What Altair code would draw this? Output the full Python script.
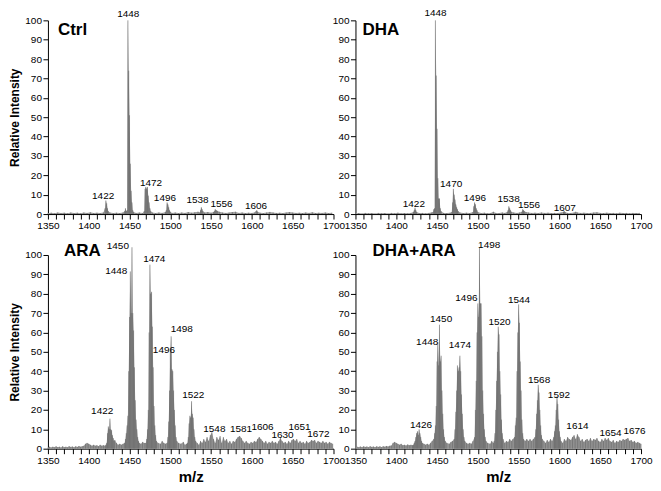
import altair as alt
import pandas as pd

# ---------------- Ctrl ----------------
ctrl_mz = [1350, 1354, 1358, 1362, 1366, 1370, 1374, 1378, 1382, 1386, 1390, 1394, 1398, 1402, 1406, 1410, 1414, 1418,
           1420, 1421, 1422, 1423, 1424, 1426, 1430, 1434, 1438, 1442, 1444, 1445, 1446, 1447, 1448, 1449, 1450, 1451,
           1452, 1453, 1454, 1455, 1458, 1462, 1466, 1468, 1469, 1470, 1471, 1472, 1473, 1474, 1475, 1476, 1478, 1482,
           1486, 1490, 1494, 1495, 1496, 1497, 1498, 1499, 1500, 1502, 1506, 1510, 1514, 1518, 1522, 1526, 1530, 1534,
           1536, 1537, 1538, 1539, 1540, 1542, 1546, 1550, 1553, 1554, 1555, 1556, 1557, 1558, 1560, 1564, 1568, 1572,
           1576, 1580, 1584, 1588, 1592, 1596, 1600, 1603, 1605, 1606, 1607, 1610, 1614, 1618, 1622, 1626, 1630, 1634,
           1638, 1642, 1646, 1650, 1654, 1658, 1662, 1666, 1670, 1674, 1678, 1682, 1686, 1690, 1694, 1698]
ctrl_int = [0.4, 0.7, 0.4, 0.8, 0.5, 0.7, 0.4, 0.8, 0.5, 0.7, 0.4, 0.8, 0.6, 0.9, 0.5, 0.7, 0.5, 0.8,
            3, 7, 5.5, 3, 1.5, 0.8, 0.5, 0.7, 0.5, 0.8, 1.5, 3, 1.5, 2, 100, 74, 51, 26,
            12, 6, 2, 1, 0.6, 0.8, 0.5, 1.5, 13, 14, 13, 14, 9.5, 6, 3, 1.5, 0.8, 0.5,
            0.8, 0.6, 1, 2, 6, 5, 3.5, 2, 1.2, 0.6, 0.8, 0.5, 0.8, 0.6, 1, 0.7, 0.9, 1.2,
            0.8, 2, 3.5, 2.5, 1.5, 0.8, 1, 0.7, 1, 1.5, 2.5, 2, 1.8, 1.5, 1.2, 0.8, 0.6, 0.8,
            1, 1.2, 0.6, 0.8, 0.5, 0.7, 0.6, 0.8, 1.5, 2, 1.2, 0.7, 0.5, 0.8, 1.1, 0.8, 0.6, 0.7,
            0.5, 0.8, 1, 0.8, 0.6, 0.7, 0.5, 0.8, 0.6, 0.9, 0.5, 0.7, 0.6, 0.8, 0.5, 0.7]
ctrl_lab = ["1422", "1448", "1472", "1496", "1538", "1556", "1606"]
ctrl_lab_mz = [1417.7, 1448.4, 1476.3, 1493.4, 1533.3, 1562.7, 1605]
ctrl_lab_int = [7.9, 101.6, 14.5, 6.6, 5.9, 3.8, 2.6]

# ---------------- DHA ----------------
dha_mz = [1350, 1354, 1358, 1362, 1366, 1370, 1374, 1378, 1382, 1386, 1390, 1394, 1398, 1402, 1406, 1410, 1414, 1418,
          1421, 1422, 1423, 1424, 1425, 1428, 1432, 1436, 1440, 1443, 1445, 1446, 1447, 1448, 1449, 1450, 1451, 1452,
          1453, 1454, 1455, 1458, 1462, 1466, 1468, 1469, 1470, 1471, 1472, 1473, 1474, 1475, 1476, 1478, 1482, 1486,
          1490, 1494, 1495, 1496, 1497, 1498, 1499, 1500, 1504, 1508, 1512, 1516, 1519, 1522, 1526, 1530, 1533, 1536,
          1537, 1538, 1539, 1540, 1541, 1544, 1548, 1551, 1554, 1555, 1556, 1557, 1559, 1562, 1566, 1570, 1574, 1578,
          1582, 1586, 1590, 1594, 1598, 1602, 1605, 1606, 1607, 1610, 1614, 1618, 1620, 1622, 1626, 1630, 1634, 1638,
          1642, 1646, 1650, 1654, 1658, 1662, 1666, 1670, 1674, 1678, 1682, 1686, 1690, 1694, 1698]
dha_int = [0.3, 0.5, 0.3, 0.6, 0.4, 0.5, 0.3, 0.6, 0.4, 0.5, 0.3, 0.6, 0.4, 0.7, 0.4, 0.5, 0.4, 0.6,
           1, 2, 3.3, 2, 1, 0.5, 0.6, 0.4, 0.6, 0.8, 1, 2.5, 3, 100, 71.5, 44, 18.5, 8,
           8, 3, 1.5, 0.6, 0.5, 0.7, 1, 6, 13, 10, 7.5, 5, 3.5, 2.5, 1.5, 0.8, 0.5, 0.7,
           0.5, 1, 4, 6, 5, 3, 2, 1, 0.5, 0.7, 0.4, 0.6, 1.2, 0.6, 0.5, 0.8, 0.6, 1,
           2, 4, 3, 2, 1.2, 0.8, 0.6, 0.8, 1.2, 2.5, 2, 1.5, 1, 0.8, 0.6, 0.7, 0.5, 0.8,
           0.6, 0.7, 0.5, 0.6, 0.5, 0.8, 1.2, 1.5, 1, 0.6, 0.5, 0.8, 1.2, 0.8, 0.6, 0.7, 0.5, 0.6,
           0.8, 0.9, 0.6, 0.5, 0.7, 0.5, 0.6, 0.4, 0.7, 0.5, 0.6, 0.4, 0.6, 0.5, 0.6]
dha_lab = ["1422", "1448", "1470", "1496", "1538", "1556", "1607"]
dha_lab_mz = [1421.6, 1448.2, 1467.3, 1496.4, 1537.7, 1562.8, 1606.6]
dha_lab_int = [3.8, 102, 14, 6.7, 6.3, 3.0, 1.6]

# ---------------- ARA ----------------
ara_mz = [1350, 1352, 1354, 1356, 1358, 1360, 1362, 1364, 1366, 1368, 1370, 1372, 1374, 1376, 1378, 1380, 1382, 1384,
          1386, 1388, 1390, 1392, 1394, 1396, 1398, 1400, 1402, 1404, 1406, 1408, 1410, 1412, 1414, 1416, 1418, 1420,
          1421, 1422, 1423, 1424, 1425, 1426, 1427, 1428, 1429, 1430, 1431, 1432, 1434, 1436, 1438, 1440, 1442, 1444,
          1445, 1446, 1447, 1448, 1449, 1450, 1451, 1452, 1453, 1454, 1455, 1456, 1457, 1458, 1459, 1460, 1461, 1462,
          1464, 1466, 1468, 1470, 1471, 1472, 1473, 1474, 1475, 1476, 1477, 1478, 1479, 1480, 1481, 1482, 1483, 1485,
          1488, 1490, 1492, 1494, 1496, 1497, 1498, 1499, 1500, 1501, 1502, 1503, 1504, 1505, 1506, 1507, 1508, 1510,
          1513, 1516, 1518, 1520, 1521, 1522, 1523, 1524, 1525, 1526, 1527, 1528, 1529, 1530, 1531, 1533, 1535, 1537,
          1539, 1541, 1543, 1545, 1547, 1549, 1551, 1553, 1555, 1557, 1559, 1561, 1563, 1565, 1567, 1569, 1571, 1573,
          1575, 1577, 1579, 1581, 1583, 1585, 1587, 1589, 1591, 1593, 1595, 1597, 1599, 1601, 1603, 1605, 1607, 1609,
          1611, 1613, 1615, 1617, 1619, 1621, 1623, 1625, 1627, 1629, 1631, 1633, 1635, 1637, 1639, 1641, 1643, 1645,
          1647, 1649, 1651, 1653, 1655, 1657, 1659, 1661, 1663, 1665, 1667, 1669, 1671, 1673, 1675, 1677, 1679, 1681,
          1683, 1685, 1687, 1689, 1691, 1693, 1695, 1697, 1699]
ara_int = [0.5, 1, 0.6, 1, 0.7, 1.2, 0.8, 1, 0.6, 1.2, 0.8, 1, 0.7, 1.3, 0.9, 1.1, 0.7, 1.2,
           0.9, 1.4, 1, 1.3, 1.5, 2.5, 3, 2.5, 2, 1.5, 2, 1.5, 1.8, 1.3, 2, 1.5, 1.8, 1.5,
           2, 3, 8, 11.5, 10, 15.5, 10, 9.5, 7, 5.5, 4, 4.5, 3, 2, 2.5, 2, 2.5, 3,
           5, 8, 12, 17, 40, 68, 91.5, 70, 104, 70, 61, 42, 25, 15, 10, 6, 4, 3,
           2.5, 3.5, 3, 3, 5, 10, 20, 60, 95, 80, 81, 63, 42, 22, 12, 7, 4, 3,
           2.5, 4, 3, 2.5, 3, 6, 14, 30, 50, 58, 41, 40, 30, 20, 12, 6, 4, 3,
           2.5, 3.5, 2, 2.5, 3, 6, 13, 17, 16, 24.5, 18, 16, 10, 6, 4, 3, 2, 4,
           3, 5, 3.5, 6, 4, 7, 8.5, 5, 3, 6, 4.5, 6.5, 3, 6, 4, 5, 3, 4,
           2.5, 4, 3.5, 5, 6, 6.5, 5.5, 4, 3, 4, 3, 2.5, 3.5, 3, 4, 3.5, 5, 6,
           5, 4, 3, 4, 2.5, 3.5, 3, 4, 3, 3.5, 2.5, 4, 5.5, 4, 3, 3.5, 2.5, 4,
           3, 4.5, 5, 4, 5, 3, 4, 3, 3.5, 2.5, 4, 3, 3.5, 4.5, 4, 4.5, 3, 4,
           3.5, 3, 4, 3, 3.5, 2.5, 3.5, 3, 2.5]
ara_lab = ["1422", "1448", "1450", "1474", "1496", "1498", "1522", "1548", "1581", "1606", "1630", "1651", "1672"]
ara_lab_mz = [1416.5, 1433.7, 1435.7, 1480.3, 1492.2, 1514.1, 1528.1, 1554, 1586.7, 1613, 1637.6, 1658.4, 1681.5]
ara_lab_int = [18.1, 90.1, 103.3, 96.2, 49.3, 60, 26.3, 8.7, 8.7, 9.5, 5.3, 9.9, 5.8]

# ---------------- DHA+ARA ----------------
da_mz = [1350, 1352, 1354, 1356, 1358, 1360, 1362, 1364, 1366, 1368, 1370, 1372, 1374, 1376, 1378, 1380, 1382, 1384,
         1386, 1388, 1390, 1392, 1394, 1396, 1398, 1400, 1402, 1404, 1406, 1408, 1410, 1412, 1414, 1416, 1418, 1420,
         1421, 1422, 1423, 1424, 1425, 1426, 1427, 1428, 1429, 1430, 1431, 1432, 1434, 1436, 1438, 1440, 1442, 1444,
         1446, 1447, 1448, 1449, 1450, 1451, 1452, 1453, 1454, 1455, 1456, 1457, 1458, 1459, 1460, 1462, 1465, 1467,
         1469, 1471, 1472, 1473, 1474, 1475, 1476, 1477, 1478, 1479, 1480, 1481, 1482, 1483, 1484, 1486, 1488, 1490,
         1492, 1494, 1496, 1497, 1498, 1499, 1500, 1501, 1502, 1503, 1504, 1505, 1506, 1507, 1508, 1509, 1510, 1512,
         1515, 1517, 1519, 1520, 1521, 1522, 1523, 1524, 1525, 1526, 1527, 1528, 1529, 1530, 1531, 1533, 1535, 1537,
         1539, 1541, 1543, 1545, 1546, 1547, 1548, 1549, 1550, 1551, 1552, 1553, 1554, 1555, 1556, 1558, 1560, 1562,
         1564, 1566, 1568, 1570, 1571, 1572, 1573, 1574, 1575, 1576, 1577, 1578, 1579, 1581, 1583, 1585, 1587, 1589,
         1591, 1593, 1594, 1595, 1596, 1597, 1598, 1599, 1600, 1601, 1602, 1604, 1606, 1608, 1610, 1612, 1614, 1616,
         1618, 1620, 1622, 1624, 1626, 1628, 1630, 1632, 1634, 1636, 1638, 1640, 1642, 1644, 1646, 1648, 1650, 1652,
         1654, 1656, 1658, 1660, 1662, 1664, 1666, 1668, 1670, 1672, 1674, 1676, 1678, 1680, 1682, 1684, 1686, 1688,
         1690, 1692, 1694, 1696, 1698, 1700]
da_int = [0.6, 1, 0.7, 1.1, 0.8, 1.2, 0.9, 1.1, 0.7, 1.3, 0.9, 1.1, 0.8, 1.2, 0.9, 1.2, 0.8, 1.3,
          1, 1.4, 1.1, 1.5, 1.6, 3, 3.5, 3, 2.5, 2, 2.5, 1.8, 2, 1.6, 2.2, 1.8, 2, 1.8,
          2, 3, 4, 6, 8, 9, 7, 10, 8, 6, 4, 3, 2.5, 2, 2.5, 2, 3, 4,
          5, 8, 12, 22, 45, 55, 43, 64, 45, 48, 30, 18, 10, 6, 4, 3, 2.5, 3.5,
          4, 5, 10, 19, 30, 43, 40, 42, 48, 40, 28, 18, 10, 6, 4, 3, 2.5, 3,
          2.5, 4, 6, 20, 35, 60, 75, 68, 104, 75, 75, 58, 30, 18, 10, 6, 4, 3,
          2.5, 4, 3, 4, 8, 20, 35, 50, 63, 59, 40, 28, 15, 8, 5, 3, 4, 3.5,
          5, 4, 5, 6, 12, 16, 40, 60, 74.5, 65, 45, 30, 15, 8, 5, 4, 5, 4,
          5, 4, 5, 6, 10, 18, 25, 33, 29, 20, 12, 7, 5, 4, 3, 4.5, 3.5, 5,
          4, 6, 9, 12, 20, 27, 23, 15, 9, 6, 4, 3, 5, 4, 6, 5, 4.5, 6,
          7, 5, 7.5, 6, 4, 5, 3.5, 4.5, 5, 4, 5.5, 4, 5, 4.5, 5.5, 4, 3.5, 5,
          4, 5.5, 4.5, 5.5, 4, 3.5, 4.5, 3, 4, 3.5, 4.5, 4, 5, 4.5, 5, 5.5, 4, 4.5,
          3.5, 4, 3, 3.5, 3, 2.5]
da_lab = ["1426", "1448", "1450", "1474", "1496", "1498", "1520", "1544", "1568", "1592", "1614", "1654", "1676"]
da_lab_mz = [1430.4, 1437.9, 1455, 1478, 1486, 1513.9, 1526.6, 1550.5, 1575.1, 1599.4, 1622.1, 1662.6, 1692.1]
da_lab_int = [10.8, 53.4, 65.6, 52, 76.3, 103.6, 64, 75.4, 33.7, 26.4, 10, 6.5, 7.5]

panel_titles = ["Ctrl", "DHA", "ARA", "DHA+ARA"]

W = 286
H = 194
FONT = "Arial"


def panel(mz, inten, lab, lab_mz, lab_int, title, tx, ty, ytitle, xtitle):
    df = pd.DataFrame({"mz": mz, "intensity": inten})
    ldf = pd.DataFrame({"mz": lab_mz, "intensity": lab_int, "label": lab})
    tdf = pd.DataFrame({"t": [title]})
    x_enc = alt.X(
        "mz:Q",
        scale=alt.Scale(domain=[1350, 1700], nice=False, zero=False),
        axis=alt.Axis(
            values=list(range(1350, 1701, 10)),
            labelExpr="datum.value % 50 == 0 ? datum.label : ''",
            labelOverlap=False,
            labelFlush=False,
            format="d",
            title=xtitle,
        ),
    )
    y_enc = alt.Y(
        "intensity:Q",
        scale=alt.Scale(domain=[0, 100], nice=False),
        axis=alt.Axis(values=list(range(0, 101, 10)), format="d", title=ytitle),
    )
    area = alt.Chart(df).mark_area(color="#a0a0a0", interpolate="linear", opacity=1).encode(x=x_enc, y=y_enc)
    rules = alt.Chart(df).mark_rule(color="#5c5c5c", strokeWidth=0.6).encode(
        x=x_enc, y=y_enc, y2=alt.datum(0)
    )
    labels = alt.Chart(ldf).mark_text(
        font=FONT, fontSize=10, align="center", baseline="alphabetic", color="black"
    ).encode(x=x_enc, y=y_enc, text="label:N")
    ttl = alt.Chart(tdf).mark_text(
        font=FONT, fontSize=17, fontWeight="bold", align="left", baseline="alphabetic", color="black"
    ).encode(x=alt.value(tx), y=alt.value(ty), text="t:N")
    return alt.layer(area, rules, labels, ttl).properties(width=W, height=H)


p1 = panel(ctrl_mz, ctrl_int, ctrl_lab, ctrl_lab_mz, ctrl_lab_int, panel_titles[0], 10, 15, "Relative Intensity", None)
p2 = panel(dha_mz, dha_int, dha_lab, dha_lab_mz, dha_lab_int, panel_titles[1], 7, 15, None, None)
p3 = panel(ara_mz, ara_int, ara_lab, ara_lab_mz, ara_lab_int, panel_titles[2], 16, 1, "Relative Intensity", "m/z")
p4 = panel(da_mz, da_int, da_lab, da_lab_mz, da_lab_int, panel_titles[3], 17, 1, None, "m/z")

chart = alt.concat(p1, p2, p3, p4, columns=2, spacing={"row": 41, "column": 22}).properties(
    bounds="flush", padding=0
).configure_view(stroke=None).configure_axis(
    grid=False,
    domainColor="black",
    tickColor="black",
    labelColor="black",
    labelFont=FONT,
    labelFontSize=10,
    tickSize=5,
    labelPadding=1.5,
    titleFont=FONT,
    titleFontWeight="bold",
    titleColor="black",
).configure_axisY(titleFontSize=12, titlePadding=3).configure_axisX(titleFontSize=15, titlePadding=4)

chart.save("out.html", embed_options={"renderer": "svg", "actions": False})
